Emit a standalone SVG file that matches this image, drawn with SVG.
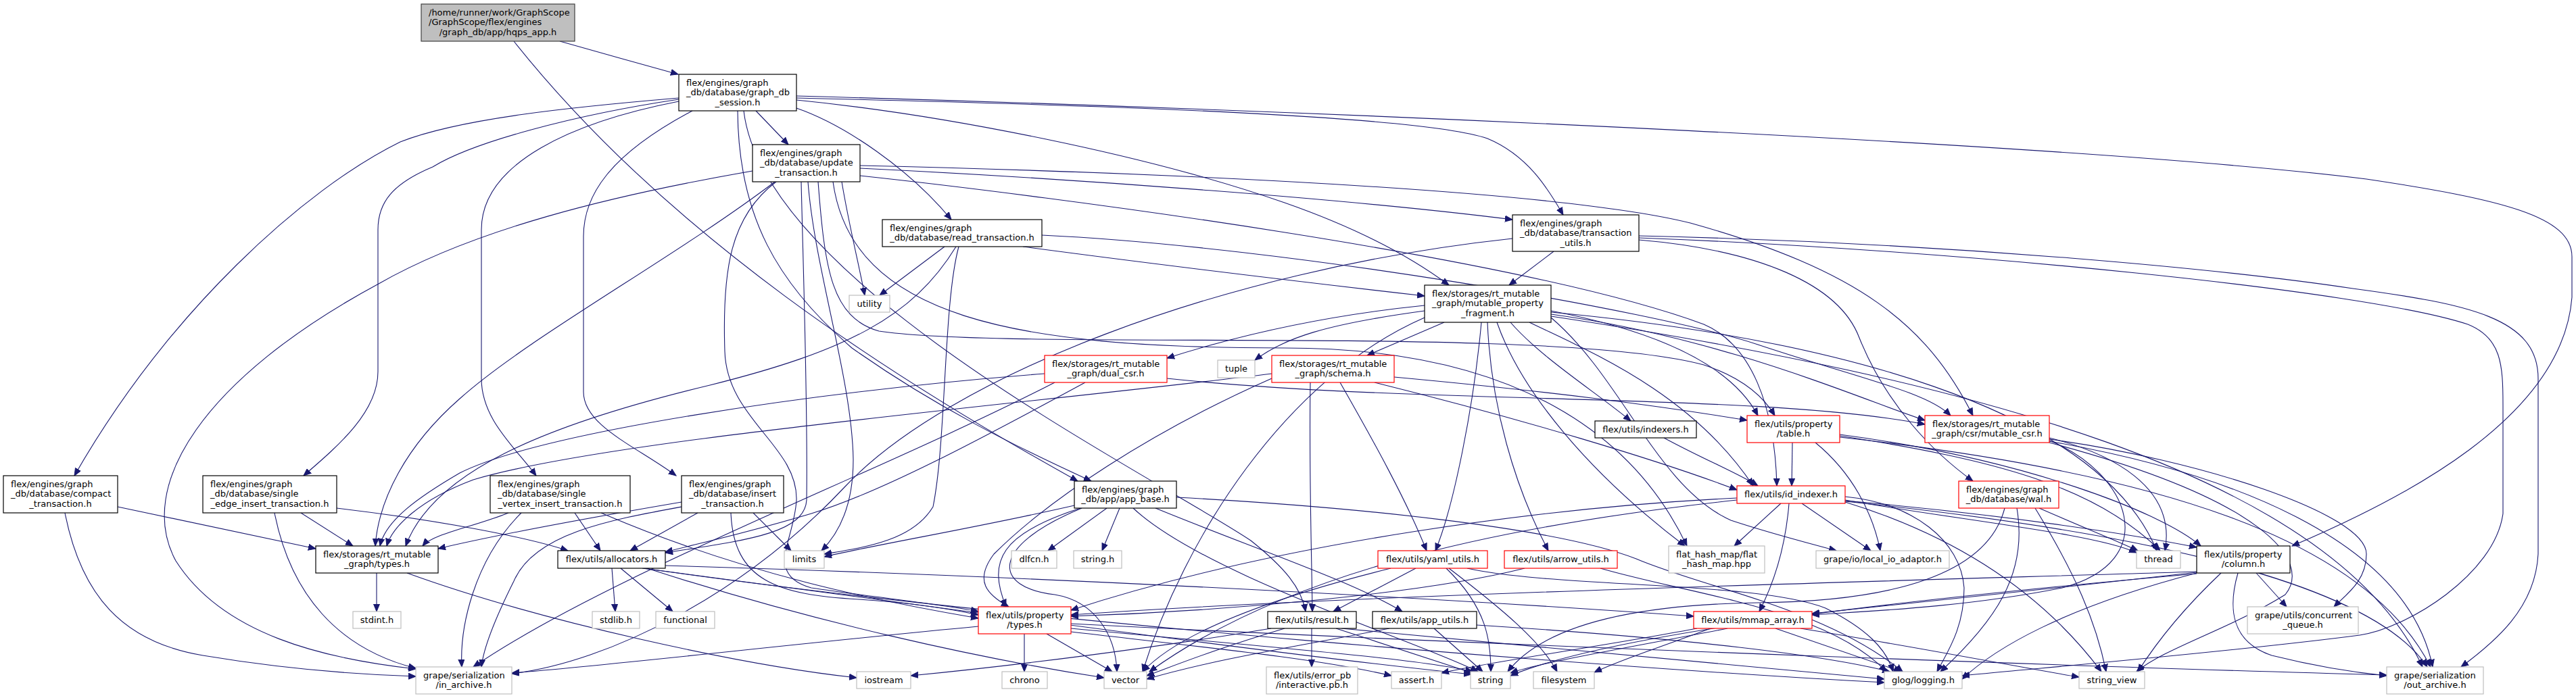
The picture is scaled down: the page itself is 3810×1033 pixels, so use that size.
<svg xmlns="http://www.w3.org/2000/svg" width="3810" height="1033" viewBox="0 0 3810 1033">
<style>
.e{fill:none;stroke:#191970;stroke-width:1.1;marker-end:url(#a)}
.n rect{fill:#fff;stroke:#000;stroke-width:1.2}
.g rect{fill:#fff;stroke:#bfbfbf;stroke-width:1.2}
.r rect{fill:#fff;stroke:#ff0000;stroke-width:1.2}
.root rect{fill:#bfbfbf;stroke:#404040;stroke-width:1.2}
text{font-family:"DejaVu Sans",sans-serif;font-size:13px;fill:#000}
.c{text-anchor:middle}
</style>
<defs>
<marker id="a" viewBox="0 -5 12 10" refX="11" refY="0" markerWidth="12" markerHeight="10" orient="auto" markerUnits="userSpaceOnUse">
<path d="M0,-4.5L11,0L0,4.5z" fill="#191970" stroke="#191970" stroke-width="1"/>
</marker>
</defs>
<rect width="3810" height="1033" fill="#fff"/>
<g id="edges">
<path class="e" d="M828,61 C880,76 950,95 1003,110"/>
<path class="e" d="M760,61 C990,350 1320,560 1594,712"/>
<path class="e" d="M1118,164 L1166,214"/>
<path class="e" d="M1178,160 C1250,185 1345,250 1407,325"/>
<path class="e" d="M1004,145 C850,158 680,175 592,210 C450,280 250,460 110,704"/>
<path class="e" d="M1004,147 C850,170 700,210 640,247 C580,272 559,300 559,340 L559,550 C559,610 500,660 449,704"/>
<path class="e" d="M1004,150 C850,180 712,240 712,340 L712,560 C712,620 760,660 793,704"/>
<path class="e" d="M1024,164 C900,230 863,290 863,350 L863,580 C863,630 940,660 1000,704"/>
<path class="e" d="M1091,164 C1092,320 1150,420 1260,515 C1380,600 1500,660 1614,712"/>
<path class="e" d="M1178,145 C1600,155 2100,170 2200,205 C2260,230 2290,280 2312,318"/>
<path class="e" d="M1178,148 C1400,170 1700,230 1900,300 C2000,335 2080,375 2143,422"/>
<path class="e" d="M1178,142 C2000,165 3100,215 3500,265 C3700,295 3804,320 3804,380 L3804,440 C3790,620 3550,740 3390,808"/>
<path class="e" d="M1100,164 C1130,420 1700,700 1850,800 C1900,840 1925,870 1931,905"/>
<path class="e" d="M1245,269 C1255,330 1270,390 1279,437"/>
<path class="e" d="M1397,365 L1301,437"/>
<path class="e" d="M1113,253 C900,290 700,340 560,420 C300,560 200,720 260,830 C330,940 480,975 615,990"/>
<path class="e" d="M1146,269 C1000,380 780,500 680,590 C600,660 560,740 555,808"/>
<path class="e" d="M1148,269 C1080,320 1068,400 1072,520 C1075,620 1180,660 1178,740 C1175,800 1130,850 1200,870 C1300,885 1400,895 1447,905"/>
<path class="e" d="M1185,269 C1188,400 1195,600 1193,740 C1190,790 1100,800 984,818"/>
<path class="e" d="M1195,269 C1205,400 1260,560 1262,680 C1262,750 1240,790 1215,815"/>
<path class="e" d="M1210,269 C1220,400 1230,470 1300,490 C1500,520 2300,480 2520,540 C2580,560 2610,590 2625,615"/>
<path class="e" d="M1272,260 C1550,290 2250,380 2520,480 C2590,510 2625,600 2628,719"/>
<path class="e" d="M1272,245 C1700,255 2300,280 2500,330 C2750,400 2850,480 2918,615"/>
<path class="e" d="M1272,249 C1600,265 2000,295 2237,325"/>
<path class="e" d="M1232,269 C1260,470 1500,515 1900,515 C2250,515 2420,650 2495,808"/>
<path class="e" d="M1418,365 C1395,450 1400,650 1380,750 C1350,800 1280,810 1219,820"/>
<path class="e" d="M1414,365 C1350,470 1250,520 1050,570 C800,630 640,700 600,808"/>
<path class="e" d="M1513,365 C1700,390 1950,420 2107,438"/>
<path class="e" d="M1541,348 C1900,365 2450,460 2600,510 C2750,560 2850,580 2885,615"/>
<path class="e" d="M2298,372 L2232,422"/>
<path class="e" d="M2237,353 C1800,400 1400,560 1250,720 C1100,880 900,980 757,997"/>
<path class="e" d="M2424,349 C2900,360 3300,400 3480,427 C3650,450 3754,470 3754,560 L3754,820 C3750,900 3690,950 3640,987"/>
<path class="e" d="M2424,352 C2900,370 3500,430 3650,480 C3700,500 3702,540 3702,600 L3702,760 C3690,850 3560,930 3490,940 C3300,965 3000,990 2902,1000"/>
<path class="e" d="M2424,355 C2600,370 2720,420 2750,500 C2790,600 2860,670 2918,712"/>
<path class="e" d="M2136,477 L2022,526"/>
<path class="e" d="M2107,452 C1950,468 1820,500 1726,530"/>
<path class="e" d="M2107,460 C1960,480 1900,500 1856,533"/>
<path class="e" d="M2191,477 C2180,600 2150,750 2123,815"/>
<path class="e" d="M2200,477 C2205,600 2240,720 2290,815"/>
<path class="e" d="M2234,477 C2280,530 2360,580 2412,623"/>
<path class="e" d="M2214,477 C2250,580 2350,700 2492,808"/>
<path class="e" d="M2262,477 C2350,520 2500,580 2593,719"/>
<path class="e" d="M2294,460 C2450,490 2560,540 2600,615"/>
<path class="e" d="M2294,465 C2550,500 2750,590 2847,622"/>
<path class="e" d="M2294,470 C2400,560 2450,720 2560,770 C2620,790 2680,805 2716,815"/>
<path class="e" d="M2294,462 C2700,500 3100,600 3190,815"/>
<path class="e" d="M2294,468 C2900,560 3450,700 3583,987"/>
<path class="e" d="M2107,470 C1900,560 1750,800 1690,994"/>
<path class="e" d="M1545,553 C1200,580 800,640 680,700 C620,735 570,770 562,808"/>
<path class="e" d="M1605,566 C1450,650 1300,730 1200,760 C1100,790 1030,805 984,817"/>
<path class="e" d="M1726,560 C2100,600 2600,580 2847,628"/>
<path class="e" d="M1560,566 C1300,700 900,850 700,987"/>
<path class="e" d="M1881,553 C1500,600 900,650 700,710 C620,740 580,780 572,808"/>
<path class="e" d="M1881,560 C1700,640 1550,740 1470,820 C1440,860 1460,880 1492,898"/>
<path class="e" d="M1938,566 C1936,700 1940,820 1941,905"/>
<path class="e" d="M1982,566 C2030,650 2080,740 2110,815"/>
<path class="e" d="M2033,566 C2250,620 2450,680 2569,725"/>
<path class="e" d="M2062,558 C2300,580 2450,600 2584,622"/>
<path class="e" d="M1589,748 C1450,780 1300,805 1219,824"/>
<path class="e" d="M1598,752 C1480,790 1460,830 1488,898"/>
<path class="e" d="M1600,752 C1460,810 1470,870 1560,880 C1620,890 1650,940 1652,994"/>
<path class="e" d="M1637,752 L1550,815"/>
<path class="e" d="M1656,752 L1630,815"/>
<path class="e" d="M1709,752 C1850,810 2000,860 2074,905"/>
<path class="e" d="M1676,752 C1780,850 2100,950 2186,994"/>
<path class="e" d="M1740,736 C2000,750 2300,780 2420,827 C2520,870 2700,900 2814,994"/>
<path class="e" d="M1515,938 L1515,994"/>
<path class="e" d="M1548,938 L1645,994"/>
<path class="e" d="M1447,927 C1200,950 900,985 757,996"/>
<path class="e" d="M1584,923 C2300,960 3200,990 3530,999"/>
<path class="e" d="M1584,930 C1900,960 2100,975 2178,994"/>
<path class="e" d="M1584,935 C1800,960 1950,975 2058,1000"/>
<path class="e" d="M557,848 L557,905"/>
<path class="e" d="M602,848 C800,920 1100,985 1267,1003"/>
<path class="e" d="M2094,841 L1972,905"/>
<path class="e" d="M2139,841 C2200,900 2205,950 2205,994"/>
<path class="e" d="M2143,841 C2220,900 2280,950 2303,994"/>
<path class="e" d="M2170,841 C2300,870 2600,860 2700,900 C2760,930 2790,960 2800,994"/>
<path class="e" d="M2057,841 C1900,880 1750,930 1690,994"/>
<path class="e" d="M2255,841 C2100,880 1800,905 1584,912"/>
<path class="e" d="M2367,841 C2500,880 2700,900 2790,994"/>
<path class="e" d="M1940,930 L1940,987"/>
<path class="e" d="M1976,930 L2178,996"/>
<path class="e" d="M1900,930 C1800,960 1750,980 1696,1000"/>
<path class="e" d="M1880,930 C1700,960 1500,985 1347,1000"/>
<path class="e" d="M1984,930 C2300,960 2600,985 2787,1005"/>
<path class="e" d="M2121,930 L2193,994"/>
<path class="e" d="M2055,930 C1900,960 1800,975 1696,1005"/>
<path class="e" d="M2184,925 C2500,945 2700,970 2795,994"/>
<path class="e" d="M2634,745 L2565,808"/>
<path class="e" d="M2665,745 L2767,815"/>
<path class="e" d="M2646,745 C2640,820 2620,870 2602,905"/>
<path class="e" d="M2729,735 C2830,745 2900,800 2905,870 C2905,930 2880,965 2865,994"/>
<path class="e" d="M2729,743 C2850,780 3000,850 3108,994"/>
<path class="e" d="M2729,740 C2900,770 3100,790 3160,818"/>
<path class="e" d="M2729,741 C2950,760 3150,790 3249,810"/>
<path class="e" d="M2729,742 C3100,780 3500,850 3590,987"/>
<path class="e" d="M2569,737 C2300,750 1900,800 1584,903"/>
<path class="e" d="M2569,740 C2200,780 1900,850 1700,994"/>
<path class="e" d="M2461,648 C2520,680 2570,700 2600,719"/>
<path class="e" d="M2651,655 L2650,719"/>
<path class="e" d="M2685,655 C2740,700 2770,760 2781,815"/>
<path class="e" d="M2721,643 C3000,680 3200,760 3255,808"/>
<path class="e" d="M2721,645 C2950,680 3100,720 3195,815"/>
<path class="e" d="M2721,647 C3200,700 3500,800 3595,987"/>
<path class="e" d="M3031,648 C3120,670 3220,720 3202,815"/>
<path class="e" d="M3031,652 C3150,700 3200,830 3050,870 C2900,900 2750,905 2680,910"/>
<path class="e" d="M3031,650 C3250,680 3500,760 3500,820 C3500,860 3470,880 3452,898"/>
<path class="e" d="M3031,653 C3300,700 3560,800 3598,987"/>
<path class="e" d="M3031,655 C3350,740 3420,830 3380,880 C3300,930 3200,960 3160,994"/>
<path class="e" d="M2983,752 C3000,850 2950,920 2870,994"/>
<path class="e" d="M2965,752 C2940,850 2800,890 2600,892 C2400,895 2280,930 2230,994"/>
<path class="e" d="M3016,752 C3080,780 3130,800 3162,815"/>
<path class="e" d="M3010,752 C3070,850 3100,920 3115,994"/>
<path class="e" d="M3285,848 C3230,900 3190,950 3162,994"/>
<path class="e" d="M3310,848 C3295,900 3300,950 3360,970 C3420,985 3480,995 3530,1000"/>
<path class="e" d="M3337,848 L3382,898"/>
<path class="e" d="M3249,847 C3050,870 2800,895 2680,908"/>
<path class="e" d="M3249,846 C2800,860 2000,880 1584,910"/>
<path class="e" d="M3249,848 C3050,900 2950,960 2902,1005"/>
<path class="e" d="M3249,849 C2900,880 2400,930 2234,1000"/>
<path class="e" d="M2626,930 L2812,994"/>
<path class="e" d="M2663,930 C2850,960 3000,990 3075,1002"/>
<path class="e" d="M2555,930 C2400,960 2280,980 2234,996"/>
<path class="e" d="M2530,930 C2450,960 2400,975 2358,995"/>
<path class="e" d="M2510,930 C2350,960 2200,980 2132,996"/>
<path class="e" d="M905,841 L910,905"/>
<path class="e" d="M918,841 L995,905"/>
<path class="e" d="M984,837 C1600,855 2200,890 2505,912"/>
<path class="e" d="M957,841 C1200,920 1450,975 1633,1003"/>
<path class="e" d="M952,841 C1500,920 2400,990 2787,1010"/>
<path class="e" d="M950,841 C1400,900 1900,970 2176,998"/>
<path class="e" d="M445,759 L522,808"/>
<path class="e" d="M406,759 C430,880 500,960 615,989"/>
<path class="e" d="M498,752 C650,770 780,795 840,815"/>
<path class="e" d="M174,750 L467,812"/>
<path class="e" d="M96,759 C120,880 180,950 300,970 C420,990 520,998 615,1001"/>
<path class="e" d="M752,759 C700,780 640,790 625,808"/>
<path class="e" d="M850,759 L888,815"/>
<path class="e" d="M771,759 C700,830 680,930 683,987"/>
<path class="e" d="M889,759 C1100,850 1300,890 1447,915"/>
<path class="e" d="M1008,743 C850,770 720,795 648,812"/>
<path class="e" d="M1008,750 C900,770 790,790 760,860 C730,920 715,960 712,987"/>
<path class="e" d="M1032,759 L932,815"/>
<path class="e" d="M1114,759 L1170,815"/>
<path class="e" d="M1081,759 C1085,860 1150,880 1270,887 C1350,892 1400,900 1447,910"/>
</g>
<g id="nodes">
<g id="hqps_app" class="root"><rect x="623" y="6" width="227" height="55"/><text x="634" y="22.5">/home/runner/work/GraphScope</text><text x="634" y="37">/GraphScope/flex/engines</text><text class="c" x="736.5" y="51.5">/graph_db/app/hqps_app.h</text></g>
<g id="graph_db_session" class="n"><rect x="1004" y="110" width="174" height="54"/><text x="1015" y="126.5">flex/engines/graph</text><text x="1015" y="141">_db/database/graph_db</text><text class="c" x="1091" y="155.5">_session.h</text></g>
<g id="update_transaction" class="n"><rect x="1113" y="214" width="159" height="55"/><text x="1124" y="230.5">flex/engines/graph</text><text x="1124" y="245">_db/database/update</text><text class="c" x="1192.5" y="259.5">_transaction.h</text></g>
<g id="read_transaction" class="n"><rect x="1305" y="325" width="236" height="40"/><text x="1316" y="341.5">flex/engines/graph</text><text class="c" x="1423" y="356">_db/database/read_transaction.h</text></g>
<g id="utility" class="g"><rect x="1256" y="437" width="60" height="25"/><text class="c" x="1286" y="453.5">utility</text></g>
<g id="transaction_utils" class="n"><rect x="2237" y="318" width="187" height="54"/><text x="2248" y="334.5">flex/engines/graph</text><text x="2248" y="349">_db/database/transaction</text><text class="c" x="2330.5" y="363.5">_utils.h</text></g>
<g id="mutable_property_fragment" class="n"><rect x="2107" y="422" width="187" height="55"/><text x="2118" y="438.5">flex/storages/rt_mutable</text><text x="2118" y="453">_graph/mutable_property</text><text class="c" x="2200.5" y="467.5">_fragment.h</text></g>
<g id="compact_transaction" class="n"><rect x="5" y="704" width="169" height="55"/><text x="16" y="720.5">flex/engines/graph</text><text x="16" y="735">_db/database/compact</text><text class="c" x="89.5" y="749.5">_transaction.h</text></g>
<g id="single_edge_insert_transaction" class="n"><rect x="300" y="704" width="198" height="55"/><text x="311" y="720.5">flex/engines/graph</text><text x="311" y="735">_db/database/single</text><text class="c" x="399" y="749.5">_edge_insert_transaction.h</text></g>
<g id="rt_types" class="n"><rect x="467" y="808" width="181" height="40"/><text x="478" y="824.5">flex/storages/rt_mutable</text><text class="c" x="557.5" y="839">_graph/types.h</text></g>
<g id="stdint" class="g"><rect x="522" y="905" width="71" height="25"/><text class="c" x="557.5" y="921.5">stdint.h</text></g>
<g id="in_archive" class="g"><rect x="615" y="987" width="142" height="40"/><text x="626" y="1003.5">grape/serialization</text><text class="c" x="686" y="1018">/in_archive.h</text></g>
<g id="single_vertex_insert_transaction" class="n"><rect x="725" y="704" width="207" height="55"/><text x="736" y="720.5">flex/engines/graph</text><text x="736" y="735">_db/database/single</text><text class="c" x="828.5" y="749.5">_vertex_insert_transaction.h</text></g>
<g id="insert_transaction" class="n"><rect x="1008" y="704" width="151" height="55"/><text x="1019" y="720.5">flex/engines/graph</text><text x="1019" y="735">_db/database/insert</text><text class="c" x="1083.5" y="749.5">_transaction.h</text></g>
<g id="allocators" class="n"><rect x="825" y="815" width="159" height="26"/><text class="c" x="904.5" y="831.5">flex/utils/allocators.h</text></g>
<g id="limits" class="g"><rect x="1160" y="815" width="59" height="26"/><text class="c" x="1189.5" y="831.5">limits</text></g>
<g id="stdlib" class="g"><rect x="876" y="905" width="70" height="25"/><text class="c" x="911" y="921.5">stdlib.h</text></g>
<g id="functional" class="g"><rect x="970" y="905" width="87" height="25"/><text class="c" x="1013.5" y="921.5">functional</text></g>
<g id="dual_csr" class="r"><rect x="1545" y="526" width="181" height="40"/><text x="1556" y="542.5">flex/storages/rt_mutable</text><text class="c" x="1635.5" y="557">_graph/dual_csr.h</text></g>
<g id="tuple" class="g"><rect x="1801" y="533" width="55" height="26"/><text class="c" x="1828.5" y="549.5">tuple</text></g>
<g id="schema" class="r"><rect x="1881" y="526" width="181" height="40"/><text x="1892" y="542.5">flex/storages/rt_mutable</text><text class="c" x="1971.5" y="557">_graph/schema.h</text></g>
<g id="app_base" class="n"><rect x="1589" y="712" width="151" height="40"/><text x="1600" y="728.5">flex/engines/graph</text><text class="c" x="1664.5" y="743">_db/app/app_base.h</text></g>
<g id="dlfcn" class="g"><rect x="1496" y="815" width="67" height="26"/><text class="c" x="1529.5" y="831.5">dlfcn.h</text></g>
<g id="string_h" class="g"><rect x="1588" y="815" width="71" height="26"/><text class="c" x="1623.5" y="831.5">string.h</text></g>
<g id="property_types" class="r"><rect x="1447" y="898" width="137" height="40"/><text x="1458" y="914.5">flex/utils/property</text><text class="c" x="1515.5" y="929">/types.h</text></g>
<g id="iostream" class="g"><rect x="1267" y="994" width="80" height="25"/><text class="c" x="1307" y="1010.5">iostream</text></g>
<g id="chrono" class="g"><rect x="1482" y="994" width="67" height="25"/><text class="c" x="1515.5" y="1010.5">chrono</text></g>
<g id="vector" class="g"><rect x="1633" y="994" width="63" height="25"/><text class="c" x="1664.5" y="1010.5">vector</text></g>
<g id="indexers" class="n"><rect x="2359" y="623" width="150" height="25"/><text class="c" x="2434" y="639.5">flex/utils/indexers.h</text></g>
<g id="yaml_utils" class="r"><rect x="2038" y="815" width="162" height="26"/><text class="c" x="2119" y="831.5">flex/utils/yaml_utils.h</text></g>
<g id="arrow_utils" class="r"><rect x="2225" y="815" width="167" height="26"/><text class="c" x="2308.5" y="831.5">flex/utils/arrow_utils.h</text></g>
<g id="flat_hash_map" class="g"><rect x="2468" y="808" width="142" height="40"/><text x="2479" y="824.5">flat_hash_map/flat</text><text class="c" x="2539" y="839">_hash_map.hpp</text></g>
<g id="result" class="n"><rect x="1875" y="905" width="131" height="25"/><text class="c" x="1940.5" y="921.5">flex/utils/result.h</text></g>
<g id="app_utils" class="n"><rect x="2030" y="905" width="154" height="25"/><text class="c" x="2107" y="921.5">flex/utils/app_utils.h</text></g>
<g id="error_pb" class="g"><rect x="1873" y="987" width="135" height="40"/><text x="1884" y="1003.5">flex/utils/error_pb</text><text class="c" x="1940.5" y="1018">/interactive.pb.h</text></g>
<g id="assert" class="g"><rect x="2058" y="994" width="74" height="25"/><text class="c" x="2095" y="1010.5">assert.h</text></g>
<g id="string" class="g"><rect x="2175" y="994" width="59" height="25"/><text class="c" x="2204.5" y="1010.5">string</text></g>
<g id="filesystem" class="g"><rect x="2268" y="994" width="90" height="25"/><text class="c" x="2313" y="1010.5">filesystem</text></g>
<g id="mmap_array" class="r"><rect x="2505" y="905" width="175" height="25"/><text class="c" x="2592.5" y="921.5">flex/utils/mmap_array.h</text></g>
<g id="table" class="r"><rect x="2584" y="615" width="137" height="40"/><text x="2595" y="631.5">flex/utils/property</text><text class="c" x="2652.5" y="646">/table.h</text></g>
<g id="mutable_csr" class="r"><rect x="2847" y="615" width="184" height="40"/><text x="2858" y="631.5">flex/storages/rt_mutable</text><text class="c" x="2939" y="646">_graph/csr/mutable_csr.h</text></g>
<g id="id_indexer" class="r"><rect x="2569" y="719" width="160" height="26"/><text class="c" x="2649" y="735.5">flex/utils/id_indexer.h</text></g>
<g id="wal" class="r"><rect x="2897" y="712" width="148" height="40"/><text x="2908" y="728.5">flex/engines/graph</text><text class="c" x="2971" y="743">_db/database/wal.h</text></g>
<g id="local_io_adaptor" class="g"><rect x="2686" y="815" width="197" height="26"/><text class="c" x="2784.5" y="831.5">grape/io/local_io_adaptor.h</text></g>
<g id="glog" class="g"><rect x="2787" y="994" width="115" height="25"/><text class="c" x="2844.5" y="1010.5">glog/logging.h</text></g>
<g id="string_view" class="g"><rect x="3075" y="994" width="97" height="25"/><text class="c" x="3123.5" y="1010.5">string_view</text></g>
<g id="thread" class="g"><rect x="3160" y="815" width="65" height="26"/><text class="c" x="3192.5" y="831.5">thread</text></g>
<g id="column" class="n"><rect x="3249" y="808" width="138" height="40"/><text x="3260" y="824.5">flex/utils/property</text><text class="c" x="3318" y="839">/column.h</text></g>
<g id="concurrent_queue" class="g"><rect x="3324" y="898" width="164" height="40"/><text x="3335" y="914.5">grape/utils/concurrent</text><text class="c" x="3406" y="929">_queue.h</text></g>
<g id="out_archive" class="g"><rect x="3530" y="987" width="143" height="40"/><text x="3541" y="1003.5">grape/serialization</text><text class="c" x="3601.5" y="1018">/out_archive.h</text></g>
</g>
</svg>
